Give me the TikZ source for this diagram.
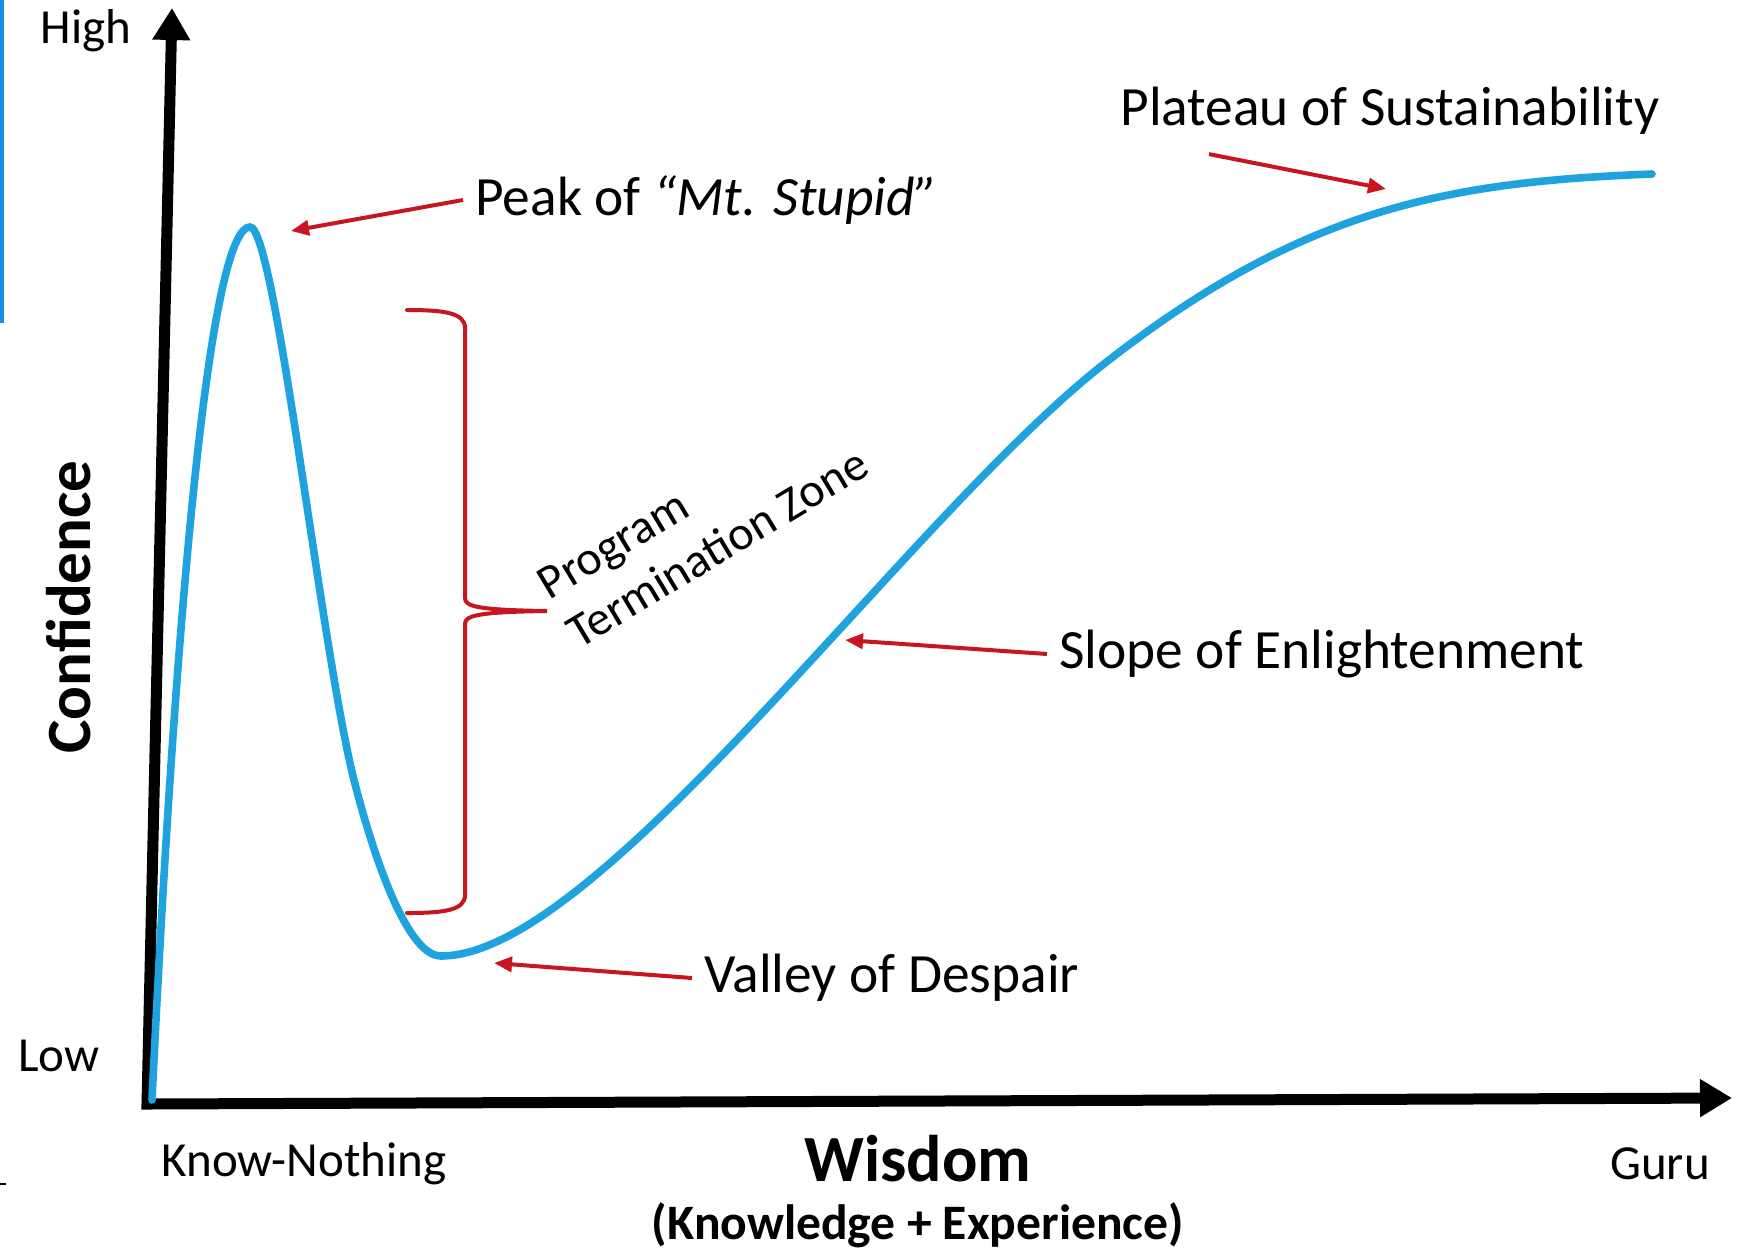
\documentclass[tikz,border=0pt]{standalone}
\usepackage{fontspec}
\setmainfont{Carlito}
\usetikzlibrary{arrows.meta}
\definecolor{curveblue}{RGB}{30,163,222}
\definecolor{arrowred}{RGB}{200,22,32}
\definecolor{edgeblue}{RGB}{24,140,230}

\begin{document}
\begin{tikzpicture}[x=0.5pt,y=0.5pt,yscale=-1,
    axis/.style={line width=5.5pt,line join=miter},
    curve/.style={draw=curveblue,line width=3.8pt,line cap=round},
    pointer/.style={draw=arrowred,line width=2pt,-{Triangle[length=9pt,width=7.5pt]}},
    brace/.style={draw=arrowred,line width=2pt,line cap=round},
    lbl/.style={inner sep=6pt,anchor=west,font=\fontsize{27.7}{33}\selectfont},
    ends/.style={inner sep=0pt,font=\fontsize{24.5}{29}\selectfont}]
\useasboundingbox (0,0) rectangle (1739,1254);
%Edge marks
\fill [edgeblue] (0,0) rectangle (4,323);
\draw [line width=1pt] (0,1184) -- (6,1184);
%Axes
\coordinate (ytop) at (172,8);
\coordinate (origin) at (147,1104);
\coordinate (xend) at (1732,1098);
\draw [axis,{Triangle[length=16pt,width=18pt]}-{Triangle[length=16pt,width=18pt]}] (ytop) -- (origin) -- (xend);
%Curve
\draw [curve] (152,1100) .. controls (180,520) and (215,227) .. (250,227) .. controls (275,227) and (320,640) .. (353,776) .. controls (370,844) and (405,956) .. (441,956) .. controls (600,956) and (911,512) .. (1109,360) .. controls (1306,207) and (1450,182) .. (1652,174);
%Bracket
\draw [brace] (407,310) .. controls (445,310) and (465,313) .. (465,328) -- (465,598) .. controls (465,606) and (475,610) .. (547,611) .. controls (475,612) and (465,616) .. (465,624) -- (465,895) .. controls (465,910) and (445,913) .. (407,913);
% Text Node
\node (peak) [lbl] at (463,200) {Peak of \textit{“Mt. Stupid”}};
\node (plateau) [lbl] at (1108,111) {Plateau of Sustainability};
\node (slope) [lbl] at (1047,654) {Slope of Enlightenment};
\node (valley) [lbl] at (692,978) {Valley of Despair};
\node (zone) [rotate=31,align=left,inner sep=0pt,font=\fontsize{24}{28.5}\selectfont] at (703,524) {Program\\Termination Zone};
% Axis labels
\node (high) [ends] at (86,31) {High};
\node (low) [ends] at (59,1056) {Low};
\node (know) [ends] at (304,1164) {Know-Nothing};
\node (guru) [ends] at (1660,1164) {Guru};
\node (wisdom) [font=\bfseries\fontsize{33}{40}\selectfont] at (918,1159) {Wisdom};
\node (knowexp) [font=\bfseries\fontsize{24.8}{30}\selectfont] at (918,1225) {(Knowledge + Experience)};
\node (conf) [rotate=90,font=\bfseries\fontsize{31.5}{38}\selectfont] at (69,607) {Confidence};
%Pointers
\coordinate (peaktop) at (291,231);
\coordinate (platpt) at (1386,189);
\coordinate (slopept) at (845,640);
\coordinate (valleypt) at (494,963);
\draw [pointer] (peak.west) -- (peaktop);
\draw [pointer] ([shift={(101,7)}]plateau.south west) -- (platpt);
\draw [pointer] (slope.west) -- (slopept);
\draw [pointer] (valley.west) -- (valleypt);
\end{tikzpicture}
\end{document}
